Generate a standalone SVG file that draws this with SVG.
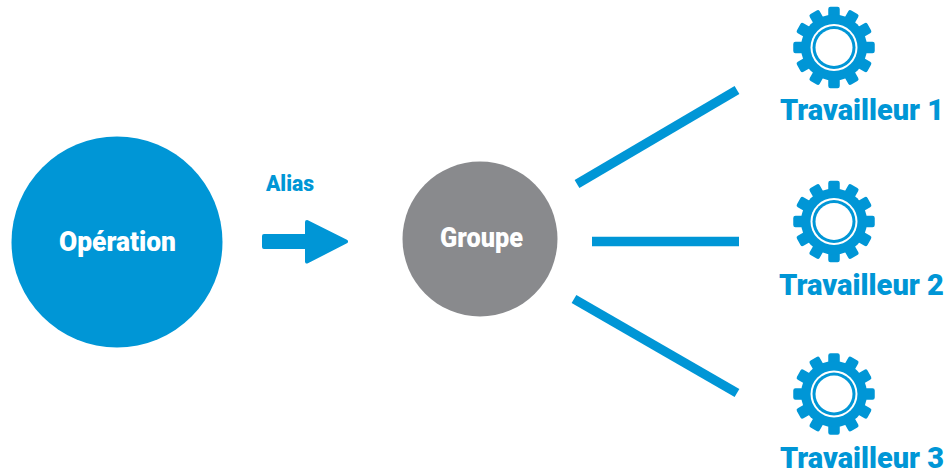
<svg xmlns="http://www.w3.org/2000/svg" xmlns:xlink="http://www.w3.org/1999/xlink" width="948" height="474" viewBox="0 0 948 474">
<style>
text{font-family:"Roboto","Liberation Sans",sans-serif;font-weight:900}
.lbl{fill:#0096d6;font-size:29px}
.in{fill:#fff;font-size:28px}
.ln{stroke:#0096d6;stroke-width:9.5;fill:none}
</style>
<defs>
<path id="t" d="M-3.500-38.500H3.500V-28H-3.500Z" fill="#0096d6" stroke="#0096d6" stroke-width="4.500" stroke-linejoin="round"/>
<g id="gear">
<use xlink:href="#t"/>
<use xlink:href="#t" transform="rotate(30)"/>
<use xlink:href="#t" transform="rotate(60)"/>
<use xlink:href="#t" transform="rotate(90)"/>
<use xlink:href="#t" transform="rotate(120)"/>
<use xlink:href="#t" transform="rotate(150)"/>
<use xlink:href="#t" transform="rotate(180)"/>
<use xlink:href="#t" transform="rotate(210)"/>
<use xlink:href="#t" transform="rotate(240)"/>
<use xlink:href="#t" transform="rotate(270)"/>
<use xlink:href="#t" transform="rotate(300)"/>
<use xlink:href="#t" transform="rotate(330)"/>
<circle r="33" fill="#0096d6"/>
<circle r="23.500" fill="#fff"/>
<circle r="21.500" fill="#0096d6"/>
<circle r="18.500" fill="#fff"/>
</g>
</defs>
<rect width="948" height="474" fill="#fff"/>
<g id="connectors">
<path class="ln" d="M577 184L737 90"/>
<path class="ln" d="M592 241.500H739"/>
<path class="ln" d="M574 299L737 393"/>
<path id="alias-arrow" d="M264 236H307V222L346 241.500L307 261.500V247H264Z" fill="#0096d6" stroke="#0096d6" stroke-width="4" stroke-linejoin="round"/>
</g>
<g id="alias"><text class="lbl" x="266" y="191" style="font-size:22px" textLength="48" lengthAdjust="spacingAndGlyphs">Alias</text></g>
<g id="operation">
<circle cx="117" cy="242" r="105.500" fill="#0096d6"/>
<text class="in" x="59" y="251" textLength="117" lengthAdjust="spacingAndGlyphs">Opération</text>
</g>
<g id="groupe">
<circle cx="480" cy="239" r="77.500" fill="#898a8d"/>
<text class="in" x="440" y="247" textLength="83" lengthAdjust="spacingAndGlyphs">Groupe</text>
</g>
<g id="worker1">
<use xlink:href="#gear" x="834" y="47.500"/>
<text class="lbl" x="780" y="120" textLength="164" lengthAdjust="spacingAndGlyphs">Travailleur 1</text>
</g>
<g id="worker2">
<use xlink:href="#gear" x="834" y="221.500"/>
<text class="lbl" x="779" y="295" textLength="165" lengthAdjust="spacingAndGlyphs">Travailleur 2</text>
</g>
<g id="worker3">
<use xlink:href="#gear" x="834" y="394"/>
<text class="lbl" x="780" y="468" textLength="164" lengthAdjust="spacingAndGlyphs">Travailleur 3</text>
</g>
</svg>
